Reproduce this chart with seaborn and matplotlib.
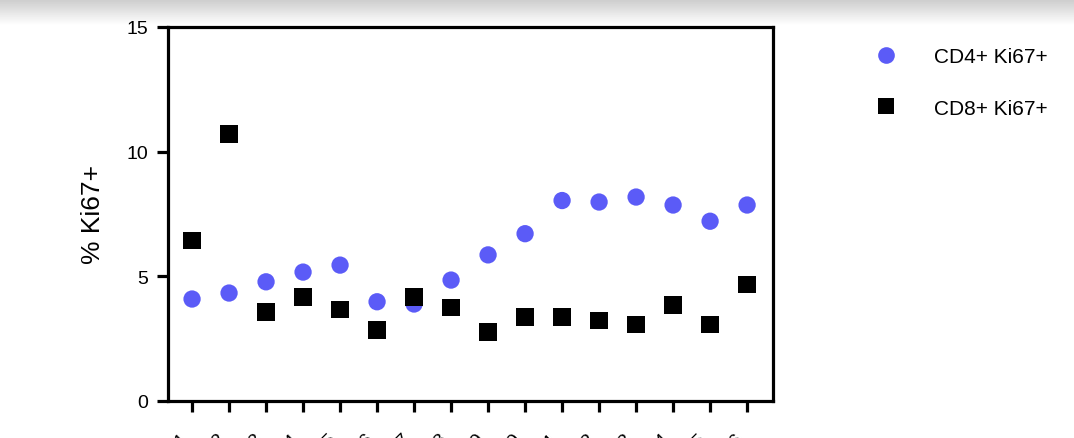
import numpy as np
import pandas as pd
import matplotlib
matplotlib.use("Agg")
import matplotlib.pyplot as plt
import seaborn as sns
from matplotlib.lines import Line2D

# ---- data ----
categories = ["T1", "T2", "T3", "T4", "T5", "T6", "T7", "T8",
              "T9", "T10", "T11", "T12", "T13", "T14", "T15", "T16"]
cd4_ki67 = [4.09, 4.33, 4.78, 5.17, 5.45, 3.98, 3.89, 4.85,
            5.86, 6.71, 8.04, 7.98, 8.18, 7.86, 7.21, 7.86]
cd8_ki67 = [6.43, 10.71, 3.57, 4.17, 3.68, 2.85, 4.17, 3.74,
            2.77, 3.37, 3.37, 3.24, 3.07, 3.85, 3.06, 4.66]
series_names = ["CD4+ Ki67+", "CD8+ Ki67+"]
y_ticks = [0, 5, 10, 15]
y_label = "% Ki67+"

df = pd.concat([
    pd.DataFrame({"cat": categories, "val": cd4_ki67, "series": series_names[0]}),
    pd.DataFrame({"cat": categories, "val": cd8_ki67, "series": series_names[1]}),
], ignore_index=True)

sns.set_style("white")
plt.rcParams["font.family"] = ["Liberation Sans", "DejaVu Sans"]
plt.rcParams["text.color"] = "black"
plt.rcParams["axes.labelcolor"] = "black"
plt.rcParams["xtick.color"] = "black"
plt.rcParams["ytick.color"] = "black"

fig = plt.figure(figsize=(10.74, 4.39), dpi=100)

# top shadow band (screenshot decoration)
gax = fig.add_axes([0, 1 - 26 / 439, 1, 26 / 439])
grad = np.linspace(0.80, 1.0, 64).reshape(-1, 1)
gax.imshow(grad, aspect="auto", cmap="gray", vmin=0, vmax=1, extent=[0, 1, 0, 1])
gax.set_axis_off()

ax = fig.add_axes([168 / 1074, 37 / 439, (773 - 168) / 1074, (402 - 28) / 439])

palette = {series_names[0]: "#5B5BF7", series_names[1]: "#000000"}
markers = {series_names[0]: "o", series_names[1]: "s"}
sns.scatterplot(data=df, x="cat", y="val", hue="series", style="series",
                palette=palette, markers=markers, s=155, linewidth=0,
                ax=ax, legend=False, zorder=3)

ax.set_xlim(-0.65, 15.7)
ax.set_ylim(0, 15)
ax.set_yticks(y_ticks)
ax.set_ylabel(y_label, fontsize=19, labelpad=16)
ax.set_xlabel("")

for sp in ax.spines.values():
    sp.set_visible(True)
    sp.set_linewidth(2.3)
    sp.set_color("black")

ax.tick_params(axis="both", direction="out", length=8, width=2.3, color="black",
               labelsize=14, labelcolor="black", left=True, bottom=True)
ax.tick_params(axis="y", pad=6)
ax.tick_params(axis="x", pad=13)
for lab in ax.get_xticklabels():
    lab.set_rotation(45)
    lab.set_ha("right")

# legend outside on right
handles = [
    Line2D([], [], marker="o", linestyle="", markersize=12, markeredgewidth=0,
           color=palette[series_names[0]]),
    Line2D([], [], marker="s", linestyle="", markersize=11.5, markeredgewidth=0,
           color=palette[series_names[1]]),
]
fig.legend(handles, series_names, loc="upper left", bbox_to_anchor=(862 / 1074, 1 - 40 / 439),
           frameon=False, fontsize=15, labelspacing=1.55, handletextpad=1.55,
           handlelength=1.5, borderaxespad=0)

fig.savefig("out.png", dpi=100)
